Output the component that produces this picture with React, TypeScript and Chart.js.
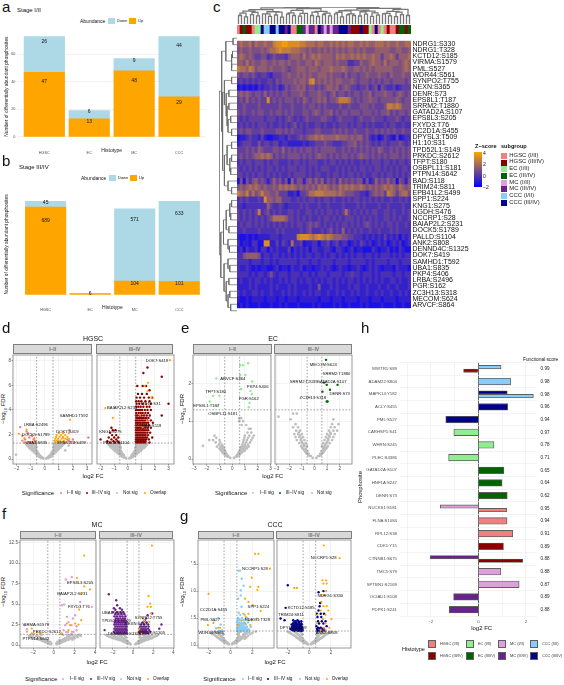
import React, { useEffect, useRef } from "react";
import { Chart, registerables } from "chart.js";
Chart.register(...registerables);
const FONT = '"Liberation Sans", Arial, sans-serif';
Chart.defaults.font.family = FONT;
Chart.defaults.animation = false as any;

// ---------- bars a / b
const histotypes = ["HGSC", "EC", "MC", "CCC"];
const earlyUp = [47, 13, 48, 29];
const earlyDown = [26, 6, 9, 44];
const lateUp = [689, 6, 104, 101];
const lateDown = [45, 0, 571, 633];

// ---------- heatmap c
const rowNames = ["NDRG1:S330","NDRG1:T328","KCTD12:S185","VIRMA:S1579","PML:S527","WDR44:S561","SYNPO2:T755","NEXN:S365","DENR:S73","EPS8L1:T187","SRRM2:T1880","GATAD2A:S107","EPS8L3:S205","FXYD3:T76","CC2D1A:S455","DPYSL3:T509","H1:10:S31","TPD52L1:S149","PRKDC:S2612","TFPT:S180","OSBPL11:S181","PTPN14:S642","BAD:S118","TRIM24:S811","EPB41L2:S499","SPP1:S224","KNG1:S275","UGDH:S476","NCCRP1:S28","BAIAP2L2:S231","DOCK5:S1789","PALLD:S1104","ANK2:S808","DENND4C:S1325","DOK7:S419","SAMHD1:T592","UBA1:S835","PKP4:S406","LRBA:S2496","PGR:S162","ZC3H13:S318","MECOM:S624","ARVCF:S864"];
const heatLevels = [
"5655646556 5578899888 8776665665 5656565665 5656556665 65565566",
"4544544454 5667877766 6554544545 4545454554 5454445555 54455445",
"5654543344 2343332455 5464565655 5546565565 6565565535 56535556",
"5546454455 4454554544 5445546545 5545444223 3544565546 45554565",
"7665764555 4544454344 5554555455 5655565445 5454545555 55444565",
"4344343233 2133344544 5454544555 4544435344 3445444544 35444544",
"2323232322 3324344445 4554784545 4545544454 3444343434 43444434",
"0101010212 2323124344 5453443434 5545345433 2334234143 22312333",
"4545434435 3434344344 4543444544 3453443434 4344534445 44345434",
"3435343433 8343434443 4354344545 3445777643 4344544344 44454344",
"3343333433 3333433343 3343443434 3333433433 3444343334 77676444",
"4343343443 3434434343 3344345434 4534344344 4344434344 53434434",
"3232333332 3332323432 3234333344 3323433332 3433343332 33343233",
"2323232333 2322323234 2323223323 2232333232 3323232223 23322322",
"3434433343 3334434343 3323334433 3343434334 3334334343 43433433",
"0112322131 0011221322 3434556565 5556555454 5534212013 21030122",
"1233322423 3233122111 1121223334 3322233445 3434323233 23334323",
"3334343543 3344353434 3434434344 4443343434 3434343543 34343434",
"3434345565 6534343444 4343434544 3434344343 4544343434 34443434",
"2323323332 3233222323 3232333223 2332323232 2323233323 32323323",
"3232323232 3323232333 2332323233 3223232323 2332323323 23232332",
"3323232332 3232322323 3332323322 3233232332 3232233232 33232323",
"0404245343 1353424052 4414535352 4342534343 4414125343 53404314",
"4545656545 4454656565 4545454656 5454656565 5654545456 56546545",
"7657464575 5445333112 0334667776 6665654443 3221345453 76535664",
"2323222328 5545533322 3232332323 3232232323 3232323232 23223232",
"2212222222 5322321222 2323222322 3222232222 3232222322 32222322",
"3232323723 4232322332 3223323232 3323236323 2323233223 32322323",
"3232323232 3466665332 3232322323 3232323332 3232323223 32323223",
"2323323232 3232323232 3323434323 2323233232 3234323232 33232232",
"2232222322 2223232222 2323422232 3423252323 2322322322 23232222",
"1001010111 1222122222 7888767876 7655544332 2212121213 12120212",
"2011022008 8113132162 2301122022 3123122012 1321201212 01212012",
"1202112022 0212111302 1212022112 2102210120 1100021011 20102100",
"2245555412 2122121212 1212212212 1221212121 2212212122 21212122",
"2222122212 2121222222 1222122122 2212222122 2221212222 12221222",
"2112101011 0012011021 1201101121 2101211011 2101212101 11021110",
"2222121221 2421222122 2122121222 1222212232 2122212122 22122122",
"1211212212 1211212122 1212212121 2212121221 2121212121 12212112",
"1111212111 1212111212 1111211411 1212111212 2112111211 21121112",
"2121122121 1211121212 1121212211 2112121121 2112112121 12112121",
"1001011110 1110110111 0111111011 1011101111 0111011101 11101111",
"0101000100 0100101000 1000010100 0010100100 0101000010 00100100",
];
const columnGroups = "abdbbacchgghhghhfhaaddfeffahfefeffhhhfbbbhbbcahacabaabddbd";
const groupColors: Record<string,string> = { a:"#F08080", b:"#8B0000", c:"#90EE90", d:"#006400", e:"#DDA0DD", f:"#68228B", g:"#87CEFA", h:"#00008B" };
const subgroupNames = ["HGSC (I/II)","HGSC (III/IV)","EC (I/II)","EC (III/IV)","MC (I/II)","MC (III/IV)","CCC (I/II)","CCC (III/IV)"];
const subgroupKeys = "abcdefgh";
const colMergeL1 = [.5,.42,.55,.48,.6,.45,.53,.4,.58,.5,.46,.62,.5,.44,.56,.48,.6,.42,.54,.5,.47,.58,.45,.52,.6,.48,.43,.55,.5];
const colMergeL2 = [.64,.68,.6,.7,.66,.62,.7,.64,.68,.6,.72,.66,.62,.7];
const colMergeL3 = [.76,.72,.8,.74,.78,.76,.74];
const colMergeL4 = [.84,.9,.82,.86];
const colMergeL5 = [.95,.92];
const colMergeL6 = [1];
const rowTree: any = [1,
 [.85,
  [.62,[.22,0,0],[.3,[.25,0,0],[.3,0,0]]],
  [.8,
   [.7,[.3,0,0],[.6,[.45,0,0],[.55,[.45,0,0],[.5,[.35,0,0],[.3,0,0]]]]],
   [.7,[.55,[.3,0,0],[.4,[.3,0,0],[.35,0,0]]],[.5,0,[.3,0,0]]]]],
 [.9,
  [.75,[.6,[.4,[.3,0,0],[.35,0,0]],[.45,0,0]],[.5,0,[.42,0,0]]],
  [.72,[.5,0,[.4,0,0]],[.6,[.45,0,0],[.5,[.4,0,0],[.35,0,0]]]]]];

// ---------- volcano d-g, rows of [y, x, x, ...]
const FC_CUT = 0.585, FDR_CUT = 1.3;
const grayDL = [[.04,-.1,.1],[.09,-.25,-.15,.15,.25],[.16,-.36,-.24,.24,.36],[.2,-.4,.4],[.24,-.45,-.3,.3,.46],[.33,-.55,-.38,.38,.55],[.38,-.48,.48],[.43,-.65,-.45,.45,.66],[.5,-.58,.58],[.55,-.76,-.5,.5,.62,.78],[.62,-.7,-.56,.56,.7],[.68,-.88,-.62,.6,.85],[.74,-.8,-.66,.72,.9],[.8,-1,-.7,.65,.98],[.86,-.9,-.72,.74,.9],[.92,-1.12,-.8,-.6,.62,.8,1.1],[.98,-1,-.7,.72,1],[1.05,-1.2,-.9,-.62,.66,.9,1.2],[1.1,-1.1,-.85,.8,1.05,1.7],[1.17,-1.3,-1,-.7,.68,1,1.3],[1.22,-1.2,-.9,-.7,.75,.9,1.2],[1.27,-1.35,-1.1,-.8,-.62,.65,.8,1.1,1.4],[.35,-2.05],[.7,1.45]];
const grayDR = [[.05,-.12,.12],[.12,-.28,-.18,.18,.28],[.2,-.42,-.3,.3,.42],[.25,-.35,.35],[.3,-.52,-.4,-.28,.28,.4,.52],[.35,-.45,.45],[.4,-.65,-.5,-.36,.36,.5,.65],[.46,-.55,-.42,.42,.58],[.52,-.8,-.62,-.44,.44,.62,.8],[.58,-.7,-.52,.55,.7],[.65,-.95,-.75,-.5,.5,.75,.95],[.72,-.85,-.62,.65,.85],[.78,-1.05,-.85,-.6,.6,.85,1.05],[.84,-1,-.72,-.55,.7,.88],[.9,-1.2,-.95,-.7,-.52,.55,.72,.95,1.2],[.96,-1.1,-.85,-.62,.62,.85,1.1],[1.02,-1.3,-1.05,-.8,-.55,.6,.8,1.05,1.3],[1.08,-1.2,-.95,-.7,.7,.95,1.2],[1.15,-1.4,-1.1,-.85,-.6,.62,.85,1.1,1.4],[1.2,-1.3,-1,-.78,.72,1,1.3],[1.27,-1.5,-1.2,-.95,-.7,-.55,.6,.7,.95,1.2,1.45]];
const grayEL = [[.03,-.15,.15],[.07,-.4,-.3,.3,.4],[.1,-.5,.5],[.12,-.6,-.5,-.4,.4,.5,.6],[.15,-.65,.65],[.17,-.75,-.62,-.5,.5,.62,.75],[.2,-.8,.82],[.22,-.85,-.7,-.58,.58,.7,.85,1],[.25,-.92,.92],[.28,-1,-.8,-.65,.65,.8,1,1.15],[.3,-.75,.75],[.33,-1.2,-.9,-.72,.72,.9,1.1,1.3],[.38,-1.05,-.8,.8,1,1.25],[.44,-1.3,-.95,.85,1.1,1.4],[.5,-1.5,-1,.9,1.15,1.5],[.56,-1.25,.95,1.25,1.6],[.62,-1.4,1,1.35,1.7],[.7,1.2,1.5],[.8,1.3,1.45],[.9,.75,1.1],[1,.85,.55],[1.08,.55,.7],[.35,-2.3],[.5,-1.8]];
const grayER = [[.03,-.15,.15],[.08,-.4,-.28,.28,.4],[.11,-.5,.5],[.14,-.6,-.45,.45,.6],[.17,-.68,.68],[.2,-.75,-.55,.55,.75],[.24,-.82,.82],[.27,-.9,-.68,.68,.9],[.3,-.98,.78,.98],[.34,-1.05,-.8,-.6,.6,.8,1.05],[.38,-.85,.85],[.42,-1.2,-.95,-.7,.7,.95,1.2],[.46,-1,1],[.5,-1.4,-1.1,-.8,.8,1.1,1.4],[.54,-1.05,1.05],[.58,-1.5,-1.2,-.9,.9,1.2,1.5],[.62,-1.15,1.15],[.66,-1.6,-1.3,-1,1,1.3,1.6],[.7,-1.25,1.25],[.75,-1.45,-1.15,1.15,1.5,1.8],[.84,-1.7,-1.3,1.3,1.6],[.92,-1.5,1.4,1.9],[1.05,-1.9,1.5],[1.12,-2.85],[1.2,-1.7,-1.4]];
const grayFL = [[.08,-.3,.3],[.2,-.5,-.25,.25,.5],[.28,-.65,.65],[.35,-.8,-.5,.5,.8],[.4,-.35,.35],[.42,-.95,-.6,.6,.95],[.5,-1.1,-.7,.7,1.1],[.58,-1.2,-.8,.8,1.2],[.6,-.6,.55],[.65,-1.4,-.9,.9,1.4,1.8],[.72,-1.6,-1.05,1,1.5],[.8,-1.8,-1.2,1.1,1.6,2],[.88,-1.9,-1.3,1.2,1.75],[.95,-2.1,-1.4,1.3,1.9,2.3],[1.02,-2.2,-1.5,1.4,2],[1.1,-2.4,-1.7,1.5,2.2,2.6],[1.18,-2.3,-1.6,1.6,2.3],[1.25,-2,-1.2,.9,1.3,1.8,2.5]];
const grayFR = [[.08,-.25,.25],[.2,-.5,-.3,.3,.5],[.28,-.65,-.42,.42,.65],[.35,-.8,-.5,.5,.8],[.42,-.95,-.65,.65,.95],[.5,-1.1,-.75,-.55,.55,.75,1.1],[.58,-1.3,-.9,.9,1.25],[.65,-1.5,-1.1,-.75,.75,1.1,1.45],[.72,-1.7,-1.25,1,1.6],[.8,-1.9,-1.4,-.9,.9,1.4,1.8],[.88,-2.05,-1.5,1.2,1.9],[.95,-2.2,-1.6,-1.1,-.7,.7,1.1,1.6,2],[1.02,-2.35,-1.75,1.4,2.15],[1.1,-2.5,-1.9,-1.3,-.8,.7,1.2,1.7,2.3],[1.18,-2.6,-2,-1.1,1,1.55,2.4],[1.25,-2.7,-2.1,-1.5,-.9,.65,1.2,1.9,2.5]];
const grayGL = [[.06,-.15,.15],[.15,-.35,-.2,.2,.35],[.2,-.42,.42],[.25,-.55,-.3,.3,.55],[.3,-.6,-.38,.38,.6],[.35,-.7,-.45,.45,.7],[.4,-.75,.75],[.45,-.85,-.55,.55,.85],[.52,-.9,-.6,.6,.9],[.58,-1,-.65,.65,1,1.3],[.64,-1.1,-.72,.72,1.1],[.7,-1.2,-.8,.7,1,1.45],[.78,-1.25,-.85,.85,1.3],[.85,-1.35,-.9,.75,1.15,1.6],[.92,-1.45,-1,-.7,.72,1.3],[1,-1.6,-1.05,-.65,.7,1.2,1.8],[1.06,-1.7,-1.1,.75,1.5],[1.12,-1.8,-1.2,-.75,.7,1.3,2],[1.18,-1.5,-1,.8,1.7],[1.25,-1.4,-.9,.65,.95,1.5,2.3]];
const grayGR = [[.06,-.15,.15],[.15,-.33,-.2,.2,.33],[.2,-.42,.42],[.25,-.5,-.3,.3,.5],[.3,-.6,-.38,.38,.6],[.35,-.7,-.45,.45,.7],[.4,-.75,.75],[.45,-.85,-.55,.55,.85],[.52,-.9,-.6,.6,.9],[.58,-1,-.65,.65,1],[.64,-1.1,-.72,.72,1.1],[.7,-1.2,-.8,.75,1.2],[.78,-1.25,-.85,.85,1.3],[.85,-1.35,-.9,.85,1.35],[.92,-1.45,-1,-.7,.72,1.45],[1,-1.6,-1.05,-.65,.7,1.05,1.6],[1.06,-1.7,-1.15,1.15,1.7],[1.12,-1.8,-1.2,-.75,.75,1.25,1.8],[1.18,-1.9,-1.3,.85,1.4,1.9],[1.25,-2,-1.4,-.9,.65,.95,1.5,2]];

const sigDL = [[2.6,-1.75],[2.25,-1.3],[2.1,-1.2],[1.9,-1.6,-.9],[1.75,-1.1,1.3,3.1],[1.6,-1.4,-.8,1.6,2],[1.5,-1.6,-.7,.9,1.7],[1.4,-1.2,-.9,-.65,1.9],[1.35,-1.45,-1,-.75,2.1],[2.35,1.75]];
const overlapDL = [[3.2,1.8],[2.4,-1.3],[2.05,-1.85],[2.1,1,1.3,1.7],[1.95,.85,1.15,1.45],[1.8,.8,1.05,1.3,1.6],[1.7,-1.45,-.75],[1.65,.75,.95,1.2,1.45,1.75],[1.5,.7,.9,1.1,1.35],[1.38,.75,1,1.25,1.5]];
const sigDR = [[7.45,1.45],[7,1.15],[6.7,2.5],[5.95,.7,1.1,1.35],[5.6,1.6],[5.3,.75,1.05,1.4],[5,.65,.9,1.2,1.55,1.8],[4.7,.62,.8,1,1.3,1.6],[4.5,.65,.85,1.1,1.35,3,1.7],[4.25,.62,.78,.95,1.15,1.4,1.6],[4,.6,.75,.9,1.05,1.25,1.45,1.7],[3.75,.62,.8,.95,1.1,1.3,1.5],[3.55,.6,.72,.88,1.02,1.2,1.4,1.62,2.5],[3.35,.62,.76,.9,1.05,1.18,1.34,1.52],[3.15,.6,.72,.85,.98,1.12,1.27,1.43,1.7],[2.95,.6,.7,.82,.95,1.08,1.2,1.35,1.5,1.85],[2.75,.6,.72,.85,.97,1.1,1.24,1.38,1.55],[2.55,.6,.7,.82,.94,1.06,1.18,1.32,1.48,1.7,-1.2],[2.35,.6,.72,.84,.96,1.08,1.2,1.34,1.5,-1.1,-.9],[2.15,.6,.7,.82,.94,1.06,1.18,1.3,1.45,1.65,-1.3],[1.95,.6,.72,.84,.96,1.08,1.2,1.32,1.5,-1.15,-.85],[1.75,.6,.7,.82,.94,1.06,1.18,1.3,1.42,1.8,-1.4,-1,-.7],[1.6,.6,.72,.84,.96,1.08,1.2,1.35,1.55,-2,-1.2,-.85],[1.45,.6,.7,.82,.94,1.06,1.18,1.3,-1.5,-1.05,-.75],[1.35,.62,.75,.88,1,1.14,1.28,1.6,-1.3,-.95,-.65]];
const overlapDR = [[8.05,3.1],[6.2,1.5],[5.95,1.25],[5.5,1.45],[5,1.75],[4.5,1.3],[4.15,-1.65],[3.35,-1.1],[3.6,.9],[3.1,1.4],[2.6,1.1]];
const sigEL = [[2.53,1.25],[2.48,.63,.85],[2.22,.63,1.04],[2.13,-1.25],[2.05,1.57],[1.85,.7],[1.8,1.44],[1.72,1.54],[1.67,-1,-1.5],[1.52,-1.77],[1.48,1.36],[1.4,-1.17],[1.37,1.3]];
const sigER = [[2.62,.91],[2.02,.76],[1.96,.97,1.83],[1.83,1.23],[1.78,.63],[1.52,.97,1.04]];
const sigFL = [[8.3,1.74],[8,1.16],[5.26,2.55],[4.94,1],[4.86,.77],[4.66,3.68],[3.64,2.06],[3.44,1.26],[3.24,1.84],[2.8,1.42],[2.43,-2.77,1.1,1.7],[2.3,2.2],[1.94,-2.6],[1.8,.95,2.2],[1.6,1.2,1.35,1.9],[1.35,1.68,-1.9,.7]];
const overlapFL = [[10.93,2.94],[8.18,2.23],[7.17,2.94],[6.8,3.5],[6.28,2.65],[4.33,2.45],[3.04,2.65],[2.63,1.26,2.06],[2.5,2.39],[2.43,1.58],[2.02,-2.13],[1.82,1.42],[1.62,-2.6,1.75],[1.54,-1.65],[1.42,-2.13,-1.32,.77]];
const sigFR = [[6.2,-2.4],[5.46,-1.67],[4.86,-1.57],[4.5,-1.9,-1.3],[4.3,-1.1,-1.75],[4,-2,-1.6,-1.25,-.95],[3.85,1.9],[3.75,-1.75,-1.45,-1.15,-.85],[3.64,1.44],[3.5,-1.85,-1.6,-1.3,-1.05,-.75],[3.25,-1.7,-1.5,-1.25,-1,-.8,1.3],[3,-1.75,-1.55,-1.35,-1.15,-.95,-.75,1.15],[2.75,-1.8,-1.6,-1.4,-1.2,-1,-.8,-.65,.95,1.35],[2.5,-1.85,-1.65,-1.45,-1.25,-1.05,-.85,-.68,.8,1.1,1.5,2.82],[2.25,-1.75,-1.55,-1.35,-1.15,-.95,-.75,-.62,.7,.9,1.1,1.3,1.55],[2,-1.85,-1.65,-1.45,-1.25,-1.05,-.85,-.68,.65,.85,1.05,1.25,1.5,2.6],[1.82,-2.82,-1.75,-1.55,-1.35,-1.15,-.95,-.75,-.62,.7,.9,1.1,1.3,1.6],[1.62,-1.9,-1.65,-1.45,-1.25,-1.05,-.85,-.66,.62,.8,1,1.2,1.4,1.7],[1.42,-1.8,-1.55,-1.35,-1.15,-.95,-.75,-.6,.7,.9,1.1,1.3,1.5]];
const overlapFR = [[12.15,1.87],[6,1.54],[5.06,1.7],[4.66,1.77,1.44],[3.85,1.77],[3.24,.95],[3,1.1],[2.83,1.6],[1.94,.62],[1.42,.8]];
const sigGL = [[6.9,.73,.88],[6.15,1.03],[5.5,1.2],[5.08,.94],[4.6,.94],[4.3,.7],[3.55,1],[3,.75],[2.8,.9,1.3],[2.5,.7,1.05,1.5,-1.1],[2.4,.8,1.35],[2.3,-1.5,.65,.85,1.2,1.7],[2.1,.62,.8,1,1.25,1.6],[2,.72,.95,1.15],[1.9,-.9,.65,.85,1.1,1.4],[1.8,.72,.95,1.2],[1.7,.62,.8,1,1.2,1.5,1.85],[1.62,.72,.92,1.12,1.4],[1.55,-1.3,.65,.85,1.05,1.3],[1.48,.7,.95,1.15,1.35,1.6],[1.42,.62,.8,1,1.2,1.45,1.7],[1.35,.7,.9,1.1,-.75],[1.32,.65,.85,1.05,1.25,1.5,-1.05,-.85]];
const overlapGL = [[8.46,2.24,2.55],[7.08,3.6],[6.25,1.94],[5.4,1.8,2.55],[5.1,2.45],[4.74,-2],[4.3,1.33],[4,1.64],[3.7,2.03],[3.15,2.76],[2.9,1.18,1.64],[2.6,1.4],[2.45,2.4],[2.3,1.03,1.94],[2,1.33],[1.85,-2.06,1.8,.73],[2.05,-1.55],[1.6,-1.1,-.95]];
const sigGR = [[5.54,-2],[3.6,.95],[3.45,-2.2],[2.9,.7,1.05,1.35],[2.46,-2.67],[2.3,-2.3,-1.5,-1.1],[2.2,-1.3,-1,-.75,.8,1.15,1.5],[2.1,-1.45,-1.2,-.95],[2,-1.5,-1.25,-1,-.75,.9,1.3],[1.9,-1.65,-1.4,-1.15,-.9,-.7],[1.82,-1.5,-1.25,-1,-.8],[1.75,-1.55,-1.3,-1.05,-.8,.65,1.6],[1.68,-1.45,-1.2,-.95,-.72],[1.6,-1.6,-1.4,-1.2,-1,-.8,-.65,.8,1.05],[1.54,-1.5,-1.25,-1,-.75,.95,1.3],[1.48,-1.75,-1.5,-1.3,-1.1,-.9,-.7,.7,1.2],[1.42,-1.6,-1.2,-1,-.8,-.65],[1.36,-1.55,-1.35,-1.15,-.95,-.75,-.62,.9,1.4],[1.32,-1.4,-1.05,-.85,-.7,.75,1.15],[2.6,.75,1.1],[3.2,.85],[3.9,1],[4.9,.85],[5,1.3]];
const overlapGR = [[9.23,1.33],[8.06,2.8],[6,1.2,1.55],[5.7,1.3,1.6],[5.3,-1.4,-1.15],[5,1.55],[4.6,1.1,1.35],[4,1.12],[3.6,1.3,1.6],[3.2,1.05,1.75],[2.8,.75,1.5],[2.4,1.25,2.05],[2,.68,1.5],[1.6,1.3,1.85],[1.4,1.05,1.5]];

// ---------- bars h
const phosphosites = ["WWTR1:S89","ADAM22:S804","MAPK14:Y182","ACLY:S455","PML:S527","CARHSP1:S41","WHRN:S245","PLEC:S4386","GATAD2A:S107","HNF1A:S247","DENR:S73","NUCKS1:S181","FLNA:S1084","RPL12:S38","CDK1:Y15","CTNNB1:S675","TMC5:S79","SPTBN1:S2169","OCIAD1:S108","PDPK1:S241"];
const functionalScores = ["0.99","0.98","0.98","0.96","0.94","0.97","0.78","0.71","0.65","0.64","0.62","0.95","0.94","0.91","0.89","0.88","0.88","0.87","0.89","0.88"];
const singleFC = [null,1.36,null,1.24,-1.37,-1.03,.66,-1.25,1.08,1,1.22,null,1.21,1.45,1.06,null,.95,1.72,-1.04,-1.22];
const singleGroup = [null,"g",null,"h","h","c","c","c","d","d","d",null,"a","a","b",null,"e","e","f","f"];
const upperFC = [.96,null,1.22,null,null,null,null,null,null,null,null,-1.6,null,null,null,-2.03,null,null,null,null];
const upperGroup = ["g",null,"h",null,null,null,null,null,null,null,null,"e",null,null,null,"f",null,null,null,null];
const lowerFC = [-.62,null,2.32,null,null,null,null,null,null,null,null,1.2,null,null,null,1.87,null,null,null,null];
const lowerGroup = ["b",null,"g",null,null,null,null,null,null,null,null,"a",null,null,null,"b",null,null,null,null];

// ---------- helpers
const GRID = "#EBEBEB", TICK = "#4D4D4D";
const f = (size:number, weight?:string) => ({ size, family: FONT, weight });
const minus = (s:any) => String(s).replace("-", "\u2212");
const pts = (rows:number[][]) => rows.flatMap(([y,...xs]) => xs.map(x => ({x,y})));

const overlay = {
  id: "overlay",
  afterDatasetsDraw(chart:any, _a:any, o:any) {
    const { ctx, chartArea:c, scales } = chart;
    ctx.save();
    if (o.frame) { ctx.strokeStyle = o.frame; ctx.lineWidth = .8; ctx.strokeRect(c.left, c.top, c.right-c.left, c.bottom-c.top); }
    (o.items || []).forEach((it:any) => {
      ctx.font = `${o.size || 4.6}px ${FONT}`; ctx.fillStyle = o.color || "#111";
      ctx.textAlign = "center"; ctx.textBaseline = "middle";
      ctx.fillText(it.t, scales.x.getPixelForValue(it.x), scales.y.getPixelForValue(it.y));
    });
    ctx.restore();
  },
};
Chart.register(overlay as any);

type Box = { x:number; y:number; w:number; h:number; l?:number; t?:number; r?:number; b?:number };
function Plot({ box, make }: { box:Box; make:(b:Required<Box>)=>any }) {
  const ref = useRef<HTMLCanvasElement>(null);
  const b = { l:0, t:0, r:0, b:0, ...box } as Required<Box>;
  useEffect(() => {
    const cfg = make(b);
    cfg.options = { responsive:false, animation:false, ...cfg.options };
    const c = new Chart(ref.current as any, cfg);
    return () => c.destroy();
  }, []);
  const W = b.w+b.l+b.r, H = b.h+b.t+b.b;
  return <canvas ref={ref} width={Math.round(W)} height={Math.round(H)} style={{ position:"absolute", left:b.x-b.l, top:b.y-b.t, width:Math.round(W), height:Math.round(H) }} />;
}
function T({ x, y, t, s=6, a="l", rot=0, c="#111", w }: any) {
  const tx = a==="c" ? "-50%" : a==="r" ? "-100%" : "0";
  return <div style={{ position:"absolute", left:x, top:y, fontFamily:FONT, fontSize:s, lineHeight:1, color:c, fontWeight:w||"normal", whiteSpace:"nowrap", transform:`translate(${tx},-50%) rotate(${rot}deg)` }}>{t}</div>;
}
const Sw = ({ x, y, w, h, c, bd }: any) => <div style={{ position:"absolute", left:x, top:y, width:w, height:h, background:c, boxSizing:"border-box", border: bd ? `0.8px solid ${bd}` : "none" }} />;
const Dot = ({ x, y, c }: any) => <div style={{ position:"absolute", left:x-1, top:y-1, width:2, height:2, borderRadius:1, background:c }} />;

// ---------- charts
function stackedBars(up:number[], down:number[], range:[number,number], step:number) {
  return (b:any) => {
    const items:any[] = [];
    up.forEach((v,i)=>{ items.push({x:i,y:v*.85,t:String(v)}); if (down[i]>0) items.push({x:i,y:v+down[i]*.85,t:String(down[i])}); });
    return {
      type:"bar",
      data:{ datasets:[
        { label:"Up", data:up.map((v,i)=>({x:i,y:v})), backgroundColor:"#FFA500", barThickness:40.5, stack:"s" },
        { label:"Down", data:down.map((v,i)=>({x:i,y:v})), backgroundColor:"#ADD8E6", barThickness:40.5, stack:"s" },
      ]},
      options:{
        layout:{ padding:{ top:b.t, right:b.r } },
        plugins:{ legend:{display:false}, tooltip:{enabled:false}, overlay:{ items, size:5 } },
        scales:{
          x:{ type:"linear", offset:false, stacked:true, min:-.6, max:3.6, afterFit:(s:any)=>{s.height=b.b},
              grid:{display:false}, border:{display:false},
              ticks:{ stepSize:1, includeBounds:false, autoSkip:false, maxRotation:0, padding:3, font:f(3.8), color:TICK, callback:(v:any)=>histotypes[v]??"" },
              title:{ display:true, text:"Histotype", font:f(5), color:"#222", padding:0 } },
          y:{ stacked:true, min:range[0], max:range[1], afterFit:(s:any)=>{s.width=b.l},
              afterBuildTicks:(s:any)=>{ s.ticks = s.ticks.filter((t:any)=>t.value%step===0); },
              grid:{ color:GRID, lineWidth:.7, drawTicks:false }, border:{display:false},
              ticks:{ stepSize:step, includeBounds:false, padding:2, font:f(3.8), color:TICK },
              title:{ display:true, text:"Number of differentially abundant phosphosites", font:f(4.8), color:"#222", padding:0 } },
        },
      },
    };
  };
}

function heatmap(b:any) {
  const rows = heatLevels.map(r=>r.replace(/ /g,""));
  const cols = Array.from(columnGroups).map((_,i)=>String(i));
  const color = (d:number)=>{ const k=.1+.85*d/9; return `rgb(${Math.round(255*k)},${Math.round(165*k)},${Math.round(255*(1-k))})`; };
  return {
    type:"bar",
    data:{ labels:cols, yLabels:rowNames, datasets: rows.map((r,ri)=>({
      label:rowNames[ri], data:cols.map(()=>1),
      backgroundColor:cols.map((_,c)=>color(Number(r[c]??"3"))),
      barPercentage:1, categoryPercentage:1, borderWidth:0,
    })) },
    options:{
      layout:{ padding:0 },
      plugins:{ legend:{display:false}, tooltip:{enabled:false} },
      scales:{
        x:{ display:false, stacked:true },
        y:{ display:false, stacked:true, min:0, max:rowNames.length, reverse:true },
        rows:{ type:"category", axis:"y", position:"right", labels:rowNames, offset:true, afterFit:(s:any)=>{s.width=b.r},
          grid:{display:false, drawTicks:false}, border:{display:false},
          ticks:{ autoSkip:false, padding:1.5, font:f(7), color:"#111" } },
      },
    },
  };
}
function annotation() {
  const groups = Array.from(columnGroups);
  return {
    type:"bar",
    data:{ labels:groups.map((_,i)=>String(i)), datasets:[{ label:"subgroup", data:groups.map(()=>1), backgroundColor:groups.map(g=>groupColors[g]), barPercentage:1, categoryPercentage:1 }] },
    options:{ plugins:{legend:{display:false},tooltip:{enabled:false}}, scales:{ x:{display:false}, y:{display:false,min:0,max:1} } },
  };
}
function colSegments() {
  let nodes:{p:number;h:number}[] = Array.from(columnGroups).map((_,i)=>({p:i+.5,h:0}));
  const out:any[] = [];
  [colMergeL1,colMergeL2,colMergeL3,colMergeL4,colMergeL5,colMergeL6].forEach(level=>{
    const next:any[] = [];
    for (let i=0;i<nodes.length;i+=2) {
      if (i+1>=nodes.length) { next.push(nodes[i]); break; }
      const a=nodes[i], b=nodes[i+1], h=level[i/2]??1;
      out.push({x:a.p,y:a.h},{x:a.p,y:h},{x:b.p,y:h},{x:b.p,y:b.h},{x:NaN,y:NaN});
      next.push({p:(a.p+b.p)/2,h});
    }
    nodes=next;
  });
  return out;
}
function rowSegments() {
  let idx=0; const out:any[]=[];
  const walk=(n:any):{p:number;h:number}=>{
    if (n===0) { const p=idx+.5; idx++; return {p,h:0}; }
    const a=walk(n[1]), b=walk(n[2]);
    out.push({x:a.h,y:a.p},{x:n[0],y:a.p},{x:n[0],y:b.p},{x:b.h,y:b.p},{x:NaN,y:NaN});
    return {p:(a.p+b.p)/2,h:n[0]};
  };
  walk(rowTree);
  return out;
}
const dendro = (data:any[], x:any, y:any, width:number, color:string) => () => ({
  type:"scatter",
  data:{ datasets:[{ data, showLine:true, spanGaps:false, pointRadius:0, borderColor:color, borderWidth:width }] },
  options:{ plugins:{legend:{display:false},tooltip:{enabled:false}}, scales:{ x:{display:false,...x}, y:{display:false,...y} } },
});

type V = { zero:number; unit:number; y0:number; yu:number; xStep:number; yStep:number; fixed?:boolean; showY:boolean;
  gray:number[][]; sig:number[][]; overlap?:number[][]; sigColor:string; labels:any[] };
function volcano(v:V) {
  return (b:any) => {
    const xmin=(b.x-v.zero)/v.unit, xmax=(b.x+b.w-v.zero)/v.unit;
    const ymax=(v.y0-b.y)/v.yu, ymin=(v.y0-b.y-b.h)/v.yu;
    const line=(a:any,c:any)=>({ data:[a,c], showLine:true, pointRadius:0, borderColor:"#666", borderWidth:.6, borderDash:[1.6,1.6], order:1 });
    return {
      type:"scatter",
      data:{ datasets:[
        { label:"Not sig", data:pts(v.gray), backgroundColor:"#BEBEBE", pointRadius:1.35, pointBorderWidth:0, order:5 },
        { label:"sig", data:pts(v.sig), backgroundColor:v.sigColor, pointRadius:1.2, pointBorderWidth:0, order:4 },
        { label:"Overlap", data:pts(v.overlap||[]), backgroundColor:"#FFA500", pointRadius:1.1, pointBorderWidth:0, order:3 },
        line({x:-FC_CUT,y:ymin},{x:-FC_CUT,y:ymax}), line({x:FC_CUT,y:ymin},{x:FC_CUT,y:ymax}), line({x:xmin,y:FDR_CUT},{x:xmax,y:FDR_CUT}),
      ]},
      options:{
        layout:{ padding:{ top:b.t, right:b.r } },
        plugins:{ legend:{display:false}, tooltip:{enabled:false}, overlay:{ items:v.labels, frame:"#7F7F7F", size:4.2, color:"#111" } },
        scales:{
          x:{ type:"linear", min:xmin, max:xmax, afterFit:(s:any)=>{s.height=b.b},
              grid:{ color:GRID, lineWidth:.6, tickLength:1.5, tickColor:"#555" }, border:{display:false},
              ticks:{ stepSize:v.xStep, includeBounds:false, autoSkip:false, maxRotation:0, padding:.5, font:f(4.6), color:TICK, callback:minus } },
          y:{ type:"linear", min:ymin, max:ymax, afterFit:(s:any)=>{s.width=b.l},
              grid:{ color:GRID, lineWidth:.6, tickLength:v.showY?1.5:0, tickColor:"#555" }, border:{display:false},
              ticks:{ display:v.showY, stepSize:v.yStep, includeBounds:false, autoSkip:false, padding:.5, font:f(4.6), color:TICK, callback:(t:any)=>v.fixed?Number(t).toFixed(1):String(t) } },
        },
      },
    };
  };
}

function phosBars(b:any) {
  const ZERO=478.3, UNIT=23.75;
  const set=(vals:any[],grp:any[],off:number,th:number)=>{
    const keep=vals.map((v,i)=>i).filter(i=>vals[i]!==null);
    return { data:keep.map(i=>({x:vals[i],y:i+off})), backgroundColor:keep.map(i=>groupColors[grp[i]]), borderColor:"#5F5F5F", borderWidth:.9, barThickness:th, grouped:false };
  };
  return {
    type:"bar",
    data:{ datasets:[ set(singleFC,singleGroup,0,6.6), set(upperFC,upperGroup,-.14,3.4), set(lowerFC,lowerGroup,.14,3.4) ] },
    options:{
      indexAxis:"y",
      layout:{ padding:{ top:b.t, right:b.r } },
      plugins:{ legend:{display:false}, tooltip:{enabled:false}, overlay:{ items:functionalScores.map((t,i)=>({x:2.81,y:i,t})), size:4.6, color:"#222" } },
      scales:{
        x:{ type:"linear", min:(b.x-ZERO)/UNIT, max:(b.x+b.w-ZERO)/UNIT, afterFit:(s:any)=>{s.height=b.b},
            grid:{ color:(c:any)=>c.tick && c.tick.value===0 ? "#555":GRID, lineWidth:(c:any)=>c.tick && c.tick.value===0 ? .9:.6, drawTicks:false }, border:{display:false},
            ticks:{ stepSize:1, includeBounds:false, autoSkip:false, maxRotation:0, padding:3, font:f(4.2), color:TICK, callback:(v:any)=>v%2===0?minus(v):"" } },
        y:{ type:"linear", offset:false, grid:{offset:false}, display:false, reverse:true, min:-.5, max:phosphosites.length-.5 },
        phos:{ type:"category", axis:"y", position:"left", labels:phosphosites, offset:true, afterFit:(s:any)=>{s.width=b.l},
            grid:{ color:GRID, lineWidth:.6, drawTicks:false }, border:{display:false},
            ticks:{ autoSkip:false, padding:3, font:f(4.3), color:TICK } },
      },
    },
  };
}

const Strip = ({ x, w, y, h, t }: any) => <div style={{ position:"absolute", left:x, top:y, width:w, height:h, boxSizing:"border-box", background:"#D9D9D9", border:"0.8px solid #7F7F7F", fontFamily:FONT, fontSize:4.8, color:"#333", textAlign:"center", lineHeight:`${h-1}px` }}>{t}</div>;
const SigLegend = ({ y, x0, items }: any) => <>
  <T x={x0} y={y} t="Significance" s={6} />
  {items.map((it:any,i:number)=><React.Fragment key={i}><Dot x={it[0]} y={y} c={it[2]} /><T x={it[1]} y={y} t={it[3]} s={4.7} /></React.Fragment>)}
</>;
const FdrTitle = ({ x, y }: any) => <T x={x} y={y} t={<span>{"\u2212log"}<sub style={{fontSize:4}}>10</sub>{" FDR"}</span>} s={6} a="c" rot={-90} />;

export default function App() {
  const hLegend = [[428,"a",440],[466,"c",478],[498,"e",510],[530,"g",542]] as any[];
  const hLegend2 = [[428,"b",440],[466,"d",478],[498,"f",510],[530,"h",542]] as any[];
  return (
    <div style={{ position:"absolute", left:0, top:0, width:564, height:685, background:"#fff", overflow:"hidden", filter:"blur(0.35px)" }}>
      {/* a */}
      <T x={2} y={6} t="a" s={15} />
      <T x={17} y={10} t="Stage I/II" s={6} />
      <T x={80} y={20.7} t="Abundance" s={5} /><Sw x={108} y={18} w={6.5} h={6} c="#ADD8E6" /><T x={117} y={21} t="Down" s={4} /><Sw x={129} y={18} w={6.5} h={6} c="#FFA500" /><T x={138} y={21} t="Up" s={4} />
      <Plot box={{ x:17, y:33, w:189, h:107, l:13.4, t:4, r:6, b:14 }} make={stackedBars(earlyUp, earlyDown, [-2.4,75.4], 20)} />
      {/* b */}
      <T x={2} y={160} t="b" s={15} />
      <T x={19} y={166.7} t="Stage III/IV" s={6} />
      <T x={81} y={178} t="Abundance" s={5} /><Sw x={109} y={175} w={6.5} h={6} c="#ADD8E6" /><T x={118} y={178} t="Down" s={4} /><Sw x={130} y={175} w={6.5} h={6} c="#FFA500" /><T x={139} y={178} t="Up" s={4} />
      <Plot box={{ x:18.5, y:191.7, w:187.5, h:105, l:14.9, t:4, r:6, b:14 }} make={stackedBars(lateUp, lateDown, [-21,808], 200)} />
      {/* c */}
      <T x={213} y={6} t="c" s={15} />
      <Plot box={{ x:237.3, y:7, w:173.7, h:17 }} make={dendro(colSegments(), {min:0,max:58}, {min:0,max:1}, 1.3, "#777")} />
      <Plot box={{ x:237.3, y:25.3, w:173.7, h:8.7 }} make={annotation} />
      <Plot box={{ x:219, y:35.3, w:18.3, h:279.2 }} make={dendro(rowSegments(), {min:0,max:1,reverse:true}, {min:0,max:43,reverse:true}, .7, "#666")} />
      <Plot box={{ x:237.3, y:35.3, w:173.7, h:279.2, r:72 }} make={heatmap} />
      <T x={475} y={146.7} t={"Z\u2212score"} s={5.6} w="bold" />
      <T x={501} y={146.7} t="subgroup" s={5.6} w="bold" />
      <div style={{ position:"absolute", left:474, top:151.7, width:7.7, height:35.6, background:"linear-gradient(#FFA500,#0000FF)" }} />
      {[["4",153],["2",164],["0",175.7],["\u22122",186.7]].map((a:any)=><T key={a[0]} x={483} y={a[1]} t={a[0]} s={5} />)}
      {subgroupNames.map((n,i)=><React.Fragment key={n}><Sw x={501} y={152.8+i*6.7} w={6.2} h={6} c={groupColors[subgroupKeys[i]]} /><T x={509.3} y={155.7+i*6.7} t={n} s={5.9} c="#222" /></React.Fragment>)}

      {/* d */}
      <T x={2} y={327} t="d" s={15} /><T x={93} y={337.7} t="HGSC" s={7} a="c" />
      <FdrTitle x={4} y={409} />
      <Strip x={13.3} w={78.7} y={344} h={10} t={"I\u2212II"} /><Strip x={95.7} w={77.6} y={344} h={10} t={"III\u2212IV"} />
      <Plot box={{ x:13.3, y:354, w:78.7, h:110, l:10, t:3, r:5, b:8 }} make={volcano({ zero:45, unit:14, y0:459, yu:12.4, xStep:1, yStep:2, showY:true, gray:grayDL, sig:sigDL, overlap:overlapDL, sigColor:"#F08080", labels:[{x:-.64,y:2.76,t:"LRBA:S2496"},{x:2.07,y:3.49,t:"SAMHD1:T592"},{x:-.64,y:1.98,t:"DOCK5:S1789"},{x:1.6,y:2.2,t:"DOK7:S419"},{x:-.6,y:1.34,t:"UBA1:S835"},{x:1.9,y:1.34,t:"EPB41L2:S499"}] })} />
      <Plot box={{ x:95.7, y:354, w:77.6, h:110, l:3, t:3, r:5, b:8 }} make={volcano({ zero:126.7, unit:13.7, y0:459, yu:12.4, xStep:1, yStep:2, showY:false, gray:grayDR, sig:sigDR, overlap:overlapDR, sigColor:"#8B0000", labels:[{x:2.15,y:8,t:"DOK7:S419"},{x:-.41,y:4.15,t:"BAIAP2L2:S231"},{x:1.7,y:4.53,t:"H1:10:S31"},{x:-1.27,y:2.2,t:"KNG1:S275"},{x:-.85,y:1.31,t:"PALLD:S1104"},{x:1.76,y:2.73,t:"BAD:S118"}] })} />
      <T x={93} y={475.7} t="log2 FC" s={6} a="c" />
      <SigLegend y={492.7} x0={21.7} items={[[60.7,66.7,"#F08080","I\u2212II sig"],[86.7,91.7,"#8B0000","III\u2212IV sig"],[117.3,123,"#BEBEBE","Not sig"],[145,150,"#FFA500","Overlap"]]} />

      {/* e */}
      <T x={181} y={327} t="e" s={15} /><T x={273} y={337.7} t="EC" s={7} a="c" />
      <FdrTitle x={183} y={409} />
      <Strip x={193.3} w={78.4} y={344} h={10} t={"I\u2212II"} /><Strip x={274.3} w={78} y={344} h={10} t={"III\u2212IV"} />
      <Plot box={{ x:193.3, y:354, w:78.4, h:110, l:7, t:3, r:5, b:8 }} make={volcano({ zero:232.7, unit:12.8, y0:459, yu:38.2, xStep:1, yStep:1, showY:true, gray:grayEL, sig:sigEL, sigColor:"#90EE90", labels:[{x:.05,y:2.11,t:"ARVCF:S864"},{x:2,y:1.91,t:"PKP4:S406"},{x:-1.3,y:1.78,t:"TFPT:S180"},{x:1.3,y:1.6,t:"PGR:S162"},{x:-2.04,y:1.4,t:"EPS8L1:T187"},{x:-.73,y:1.19,t:"OSBPL11:S181"}] })} />
      <Plot box={{ x:274.3, y:354, w:78, h:110, l:3, t:3, r:5, b:8 }} make={volcano({ zero:314.3, unit:12.77, y0:459, yu:38.2, xStep:1, yStep:1, showY:false, gray:grayER, sig:sigER, sigColor:"#006400", labels:[{x:.7,y:2.48,t:"MECOM:S624"},{x:1.75,y:2.24,t:"SRRM2:T1880"},{x:-.86,y:2.05,t:"SRRM2:T2039"},{x:1.36,y:2.05,t:"GATAD2A:S107"},{x:2,y:1.72,t:"DENR:S73"},{x:-.13,y:1.61,t:"ZC3H13:S318"}] })} />
      <T x={272.7} y={475.7} t="log2 FC" s={6} a="c" />
      <SigLegend y={492.7} x0={215} items={[[253,260,"#90EE90","I\u2212II sig"],[280,285.7,"#006400","III\u2212IV sig"],[311.7,317,"#BEBEBE","Not sig"]]} />

      {/* f */}
      <T x={2} y={513} t="f" s={15} /><T x={97} y={524} t="MC" s={7} a="c" />
      <FdrTitle x={4} y={592} />
      <Strip x={20} w={75.7} y={530.5} h={8.8} t={"I\u2212II"} /><Strip x={98.7} w={74.6} y={530.5} h={8.8} t={"III\u2212IV"} />
      <Plot box={{ x:20, y:539.3, w:75.7, h:108.7, l:12, t:3, r:5, b:8 }} make={volcano({ zero:53.7, unit:10.3, y0:645, yu:8.24, xStep:2, yStep:2.5, fixed:true, showY:true, gray:grayFL, sig:sigFL, overlap:overlapFL, sigColor:"#DDA0DD", labels:[{x:2.55,y:7.6,t:"EPS8L3:S205"},{x:1.8,y:6.27,t:"BAIAP2L2:S231"},{x:2.42,y:4.66,t:"FXYD3:T76"},{x:-1.74,y:2.5,t:"VIRMA:S1579"},{x:-.68,y:1.62,t:"PRKDC:S2612"},{x:-1.74,y:.73,t:"PTPN14:S642"}] })} />
      <Plot box={{ x:98.7, y:539.3, w:74.6, h:108.7, l:3, t:3, r:5, b:8 }} make={volcano({ zero:132, unit:10.17, y0:645, yu:8.24, xStep:2, yStep:2.5, fixed:true, showY:false, gray:grayFR, sig:sigFR, overlap:overlapFR, sigColor:"#68228B", labels:[{x:-2,y:3.97,t:"UBA1:S835"},{x:-1.67,y:2.96,t:"TPD52L1:S149"},{x:1.54,y:3.36,t:"SYNPO2:T755"},{x:.3,y:2.55,t:"NEXN:S365"},{x:-.85,y:1.42,t:"DENND4C:S1325"},{x:1.8,y:1.5,t:"SRRM2:S1305"}] })} />
      <T x={97} y={661.7} t="log2 FC" s={6} a="c" />
      <SigLegend y={678.7} x0={25} items={[[63.3,70,"#DDA0DD","I\u2212II sig"],[90.7,96.7,"#68228B","III\u2212IV sig"],[120.7,126.7,"#BEBEBE","Not sig"],[148,153,"#FFA500","Overlap"]]} />

      {/* g */}
      <T x={180} y={515} t="g" s={15} /><T x={275} y={524} t="CCC" s={7} a="c" />
      <FdrTitle x={183} y={592} />
      <Strip x={197.7} w={76.3} y={530.5} h={8.8} t={"I\u2212II"} /><Strip x={276.3} w={75.4} y={530.5} h={8.8} t={"III\u2212IV"} />
      <Plot box={{ x:197.7, y:539.3, w:76.3, h:108.7, l:7, t:3, r:5, b:8 }} make={volcano({ zero:230.3, unit:11, y0:645, yu:10.85, xStep:2, yStep:2.5, fixed:true, showY:true, gray:grayGL, sig:sigGL, overlap:overlapGL, sigColor:"#87CEFA", labels:[{x:2.24,y:7.05,t:"NCCRP1:S28"},{x:2.55,y:3.54,t:"SPP1:S224"},{x:-1.55,y:3.23,t:"CC2D1A:S455"},{x:-1.85,y:2.3,t:"PML:S527"},{x:2.45,y:2.37,t:"NDRG1:T328"},{x:-1.76,y:1.1,t:"WDR44:S561"}] })} />
      <Plot box={{ x:276.3, y:539.3, w:75.4, h:108.7, l:3, t:3, r:5, b:8 }} make={volcano({ zero:309.3, unit:11, y0:645, yu:10.85, xStep:2, yStep:2.5, fixed:true, showY:false, gray:grayGR, sig:sigGR, overlap:overlapGR, sigColor:"#00008B", labels:[{x:1.33,y:8.06,t:"NCCRP1:S28"},{x:1.94,y:4.58,t:"NDRG1:S330"},{x:-.76,y:3.45,t:"KCTD12:S185"},{x:-1.7,y:2.77,t:"TRIM24:S811"},{x:-1.5,y:1.63,t:"DPYSL3:T509"},{x:1.6,y:1.1,t:"ANK2:S808"}] })} />
      <T x={275} y={661.7} t="log2 FC" s={6} a="c" />
      <SigLegend y={678.7} x0={203.3} items={[[242.7,248,"#87CEFA","I\u2212II sig"],[268.3,274,"#00008B","III\u2212IV sig"],[300,305,"#BEBEBE","Not sig"],[326.7,331.7,"#FFA500","Overlap"]]} />

      {/* h */}
      <T x={361} y={327} t="h" s={15} />
      <T x={523} y={360} t="Functional score" s={4.8} />
      <T x={361} y={487} t="Phosphosite" s={5.8} a="c" rot={-90} />
      <Plot box={{ x:400, y:359.3, w:137, h:256.5, l:42, t:2, r:14, b:10 }} make={phosBars} />
      <T x={481.7} y={628.3} t="log2 FC" s={6} a="c" />
      <T x={402} y={650} t="Histotype" s={5.5} />
      {hLegend.map((a:any)=><React.Fragment key={a[1]}><Sw x={a[0]} y={640.2} w={8.3} h={8.3} c={groupColors[a[1]]} bd="#5F5F5F" /><T x={a[2]} y={644.3} t={subgroupNames[subgroupKeys.indexOf(a[1])]} s={3.9} c="#333" /></React.Fragment>)}
      {hLegend2.map((a:any)=><React.Fragment key={a[1]}><Sw x={a[0]} y={651.9} w={8.3} h={8.3} c={groupColors[a[1]]} bd="#5F5F5F" /><T x={a[2]} y={656} t={subgroupNames[subgroupKeys.indexOf(a[1])]} s={3.9} c="#333" /></React.Fragment>)}
    </div>
  );
}
